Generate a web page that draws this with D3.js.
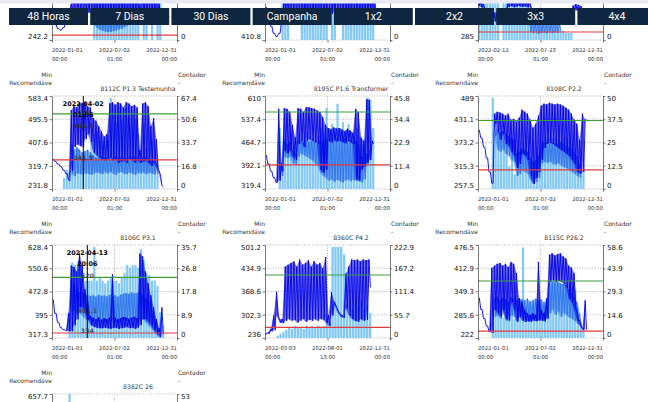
<!DOCTYPE html>
<html><head><meta charset="utf-8">
<script src="https://cdn.jsdelivr.net/npm/d3@7"></script>
<style>
html,body{margin:0;padding:0;background:#fff;overflow:hidden}
svg{display:block;font-family:"DejaVu Sans",sans-serif}
</style></head><body>
<svg id="chart" width="648" height="402"></svg>
<script>
// ---- toolbar ----
const buttons = ["48 Horas", "7 Dias", "30 Dias", "Campanha", "1x2", "2x2", "3x3", "4x4"];

// ---- panel metadata (3x3 grid, scrolled; last row partly visible) ----
const titles = ["", "", "", "8112C P1.3 Testemunha", "8195C P1.6 Transformer", "8108C P2.2",
  "8106C P3.1", "8360C P4.2", "8115C P26.2", "8382C 26"];
const dateTicks = [
  ["2022-01-01 00:00", "2022-07-02 01:00", "2022-12-31 00:00"],
  ["2022-01-01 00:00", "2022-07-02 01:00", "2022-12-31 00:00"],
  ["2022-02-12 00:00", "2022-07-23 01:00", "2022-12-31 00:00"],
  ["2022-01-01 00:00", "2022-07-02 01:00", "2022-12-31 00:00"],
  ["2022-01-01 00:00", "2022-07-02 01:00", "2022-12-31 00:00"],
  ["2022-01-01 00:00", "2022-07-02 01:00", "2022-12-31 00:00"],
  ["2022-01-01 00:00", "2022-07-02 01:00", "2022-12-31 00:00"],
  ["2022-03-03 00:00", "2022-08-01 13:00", "2022-12-31 00:00"],
  ["2022-01-01 00:00", "2022-07-02 01:00", "2022-12-31 00:00"],
  ["2022-01-01 00:00", "2022-07-02 01:00", "2022-12-31 00:00"]
];
const leftTicks = [
  [242.2, 330.2, 418.2, 506.2, 594.2], [410.8, 460, 509.2, 558.4, 607.6], [285, 362.5, 440, 517.5, 595],
  [231.8, 319.7, 407.6, 495.5, 583.4], [319.4, 392.1, 464.7, 537.4, 610], [257.5, 315.3, 373.2, 431.1, 489],
  [317.3, 395, 472.8, 550.6, 628.4], [236, 302.3, 368.6, 434.9, 501.2], [222, 285.6, 349.3, 412.9, 476.5],
  [300.1, 389.5, 478.9, 568.3, 657.7]
];
const rightTicks = [
  [0, 15, 30, 45, 60], [0, 12.5, 25, 37.5, 50], [0, 10, 20, 30, 40],
  [0, 16.8, 33.7, 50.6, 67.4], [0, 11.4, 22.9, 34.4, 45.8], [0, 12.5, 25, 37.5, 50],
  [0, 8.9, 17.8, 26.8, 35.7], [0, 55.7, 111.4, 167.2, 222.9], [0, 14.6, 29.3, 43.9, 58.6],
  [0, 13.3, 26.5, 39.8, 53]
];
const sampleDays = [8, 8, 7, 8, 8, 8, 8, 7, 8, 8];
const minRecommended = [261, 520, 311.6, 341.9, 395, 305, 334, 266.5, 241, 380];
const targetLine = [520, 560, 450, 516, 560, 428, 520, 415.7, 378, 560];
const cursorTime = ["", "", "", "2022-04-02 01:06", "", "", "2022-04-13 20:06", "", "", ""];
const cursorValues = [[], [], [], [464.4, 516, 341.9], [], [], [520, 401.1, 334], [], [], []];

// ---- series: dark = sensor max/min swing, mid = second sensor swing, cnt = counter ----
const dkHi_top1 = [330,300,285,280,290,320,340,380,420,425,430,428,420,425,430,432,428,430,425,430,428,432,430,426,430,428,432,430,425,430,428,420,380,430,428,425,430,420,400,380,340];
const dkLo_top1 = [330,300,285,280,290,320,340,350,340,345,350,342,338,345,350,340,345,350,340,345,350,342,345,340,348,345,350,342,345,340,350,345,330,345,340,350,345,340,330,320,320];
const mdHi_top1 = [null,null,null,null,null,null,null,null,null,null,null,null,null,null,null,345,350,340,348,352,345,350,342,348,350,344,350,346,352,348];
const mdLo_top1 = [null,null,null,null,null,null,null,null,null,null,null,null,null,null,null,300,290,282,278,275,272,273,275,278,282,285,290,295,300,305];
const cnt_top1 = [0,0,0,0,0,0,0,0,0,0,0,0,0,0,0,32,30,34,31,33,30,32,35,31,30,33,32,30,34,31,33,30,0,32,30,0,31,0,30,28,0];

const dkHi_top2 = [480,460,440,425,418,425,450,520,515,522,518,520,516,522,520,518,524,520,515,522,518,520,516,522,520,518,520,515,522,518,520,516,522,520,518,515,520,518,522,510,490];
const dkLo_top2 = [480,460,440,425,418,425,450,470,468,472,470,465,472,468,470,466,472,470,468,465,472,470,468,472,466,470,468,472,470,465,470,468,472,470,466,470,468,472,470,465,470];
const mdHi_top2 = [];
const mdLo_top2 = [];
const cnt_top2 = [0,0,0,0,0,0,24,25,23,0,0,0,0,25,24,26,25,23,25,24,26,25,24,0,25,24,0,0,25,23,26,24,25,24,26,25,23,25,24,25,0];

const dkHi_top3 = [420,410,405,380,378,382,376,380,378,375,380,420,418,422,420,416,420,418,422,420,380,378,382,376,380,378,375,380,378,382,376,380,378,375,380,400,405,402,398,360];
const dkLo_top3 = [400,395,390,340,345,342,348,340,345,342,340,395,398,394,396,398,395,397,394,396,340,345,342,348,340,345,342,340,345,342,348,340,345,342,340,380,384,382,380,350];
const mdHi_top3 = [null,null,null,null,null,null,null,null,null,null,null,null,null,null,null,null,null,null,null,345,348,342,346,350,344,348,345,342,347,344,340];
const mdLo_top3 = [null,null,null,null,null,null,null,null,null,null,null,null,null,null,null,null,null,null,null,312,308,310,306,309,311,307,310,308,312,309,314];
const cnt_top3 = [18,17,19,18,18,17,19,18,0,18,19,17,18,18,19,17,18,19,18,4,4,3,4,5,4,4,3,4,4,5,4,4,3,3,3,0,0,0,0,0];

const dkHi_8112C = [345,336,326,316,303,290,268,530,545,540,560,555,560,545,540,500,490,470,450,430,440,555,560,550,560,555,540,560,555,545,550,540,380,555,560,545,470,500,420,300,245];
const dkLo_8112C = [345,336,326,316,303,290,262,300,390,400,395,390,420,440,410,370,360,350,345,340,345,350,340,345,330,335,340,330,345,340,330,340,330,335,340,330,320,330,310,285,240];
const mdHi_8112C = [null,null,null,null,null,null,null,400,380,390,380,370,375,380,370,360,352,350,355,352,350,352,348,355,350,352,350,348,352,350,355,350,345,350,352,348,345,340,330];
const mdLo_8112C = [null,null,null,null,null,null,null,290,280,290,290,285,290,290,285,290,295,292,288,295,290,296,290,285,292,296,290,288,294,290,286,292,290,295,288,292,290,288,285];
const cnt_8112C = [0,0,0,0,8,14,12,25,20,30,18,15,22,20,35,40,42,38,35,32,36,66,55,48,60,50,58,52,45,55,50,40,20,48,30,45,35,25,10,0,0];

const dkHi_8195C = [425,398,375,355,340,570,400,572,570,560,520,480,572,570,560,575,575,572,570,565,560,545,520,510,505,512,508,510,505,500,508,502,495,570,560,480,470,600,598,470];
const dkLo_8195C = [425,398,375,355,340,345,375,440,430,440,420,410,460,470,450,470,475,470,465,460,380,370,380,470,465,472,468,470,466,462,470,465,460,350,345,380,390,400,410,460];
const mdHi_8195C = [null,null,null,null,null,null,390,470,460,470,440,430,470,470,465,470,468,470,465,460,470,470,480,475,478,472,476,470,474,478,470,472,468,470,460,420,420,430,440];
const mdLo_8195C = [null,null,null,null,null,null,360,420,415,420,400,395,420,430,425,420,415,410,400,395,370,360,355,345,350,342,348,345,340,346,350,344,348,345,345,340,350,400,410];
const cnt_8195C = [0,0,0,0,0,30,10,25,22,28,20,18,27,25,24,28,26,25,24,26,30,28,40,30,32,30,42,30,33,29,32,28,25,30,26,22,24,45,44,30];

const dkHi_8108C = [404,385,362,335,300,272,445,450,448,445,440,445,430,432,425,435,455,450,445,430,410,420,440,465,470,468,472,470,468,470,468,465,460,455,445,430,420,380,445,430];
const dkLo_8108C = [404,385,362,335,300,272,420,400,380,395,370,365,350,340,310,320,345,340,330,290,270,285,300,330,360,370,372,370,365,360,355,350,345,340,330,320,300,295,300,430];
const mdHi_8108C = [null,null,null,null,null,null,420,405,398,402,395,390,385,380,345,350,360,355,350,335,325,330,340,368,372,375,370,374,371,368,373,370,366,362,358,350,340,320];
const mdLo_8108C = [null,null,null,null,null,null,390,355,350,356,345,340,330,325,290,295,305,300,295,280,270,275,285,320,325,322,326,320,318,322,316,312,310,305,300,296,290,285];
const cnt_8108C = [0,0,0,0,0,49,30,28,30,25,27,12,20,8,22,20,25,24,20,15,12,14,18,26,28,27,28,27,28,27,26,28,27,26,24,22,12,8,10,0];

const dkHi_8106C = [444,400,370,352,345,342,400,560,555,540,600,560,480,440,390,385,380,386,378,384,380,386,530,385,380,384,388,386,382,385,388,384,600,590,540,500,460,420,380,350,420];
const dkLo_8106C = [444,400,370,352,345,342,340,340,360,380,420,420,400,380,360,355,352,350,350,352,350,348,350,352,348,350,352,354,350,352,348,352,360,380,380,370,360,345,330,320,330];
const mdHi_8106C = [null,null,null,null,null,null,null,520,500,480,470,470,465,462,458,460,455,462,458,460,456,462,458,460,455,462,465,468,465,470,466,468,470,460,450,440,420,400,380];
const mdLo_8106C = [null,null,null,null,null,null,null,400,410,400,400,390,380,378,372,375,370,374,368,372,370,375,370,372,368,374,376,378,374,380,376,378,380,380,370,360,350,340,330];
const cnt_8106C = [0,0,0,0,0,0,10,29,28,29,28,25,22,22,22,35,22,23,22,21,22,23,22,22,21,23,25,28,27,28,28,27,34,30,25,24,22,22,20,10,5];

const dkHi_8360C = [247,252,262,300,368,290,290,440,445,450,455,440,460,445,450,458,440,455,445,450,435,467,300,367,340,320,305,300,420,440,460,458,460,455,460,458,460];
const dkLo_8360C = [247,248,255,258,300,280,278,285,290,285,288,280,285,290,282,288,285,290,285,290,288,280,270,300,330,310,298,293,320,300,290,285,282,290,285,288,380];
const mdHi_8360C = [];
const mdLo_8360C = [];
const cnt_8360C = [0,0,0,0,5,10,15,20,25,22,28,24,26,22,30,25,28,24,30,26,28,55,40,218,218,218,218,200,80,90,70,85,75,90,70,80,60];

const dkHi_8115C = [331,300,275,255,240,414,420,425,427,420,425,416,430,425,400,330,320,300,290,285,290,285,430,300,290,330,450,454,448,452,454,445,440,420,415,400,300,270,250,325];
const dkLo_8115C = [331,300,275,255,240,236,300,290,280,300,275,270,320,300,266,280,270,266,268,266,270,268,270,270,268,275,376,380,375,378,376,372,360,330,320,300,270,255,244,245];
const mdHi_8115C = [null,null,null,null,null,null,330,335,325,332,328,320,335,330,325,331,328,325,330,322,326,330,324,328,320,330,376,378,375,376,372,370,365,355,345,335,320,290];
const mdLo_8115C = [null,null,null,null,null,null,280,285,275,290,270,268,285,280,268,285,278,272,280,270,275,268,272,280,266,275,290,300,285,295,280,290,285,278,275,270,262,258];
const cnt_8115C = [0,0,0,0,0,10,19,15,18,13,17,15,19,12,15,20,57,20,22,21,22,23,22,21,22,23,34,35,34,35,34,35,34,33,32,30,20,10,5,0];

const dkHi_8382C = [];
const dkLo_8382C = [];
const mdHi_8382C = [];
const mdLo_8382C = [];
const cnt_8382C = [0,0,0,0,0,0,53];

const series = [
  [dkHi_top1, dkLo_top1, mdHi_top1, mdLo_top1, cnt_top1],
  [dkHi_top2, dkLo_top2, mdHi_top2, mdLo_top2, cnt_top2],
  [dkHi_top3, dkLo_top3, mdHi_top3, mdLo_top3, cnt_top3],
  [dkHi_8112C, dkLo_8112C, mdHi_8112C, mdLo_8112C, cnt_8112C],
  [dkHi_8195C, dkLo_8195C, mdHi_8195C, mdLo_8195C, cnt_8195C],
  [dkHi_8108C, dkLo_8108C, mdHi_8108C, mdLo_8108C, cnt_8108C],
  [dkHi_8106C, dkLo_8106C, mdHi_8106C, mdLo_8106C, cnt_8106C],
  [dkHi_8360C, dkLo_8360C, mdHi_8360C, mdLo_8360C, cnt_8360C],
  [dkHi_8115C, dkLo_8115C, mdHi_8115C, mdLo_8115C, cnt_8115C],
  [dkHi_8382C, dkLo_8382C, mdHi_8382C, mdLo_8382C, cnt_8382C]
];

// ---- drawing ----
const C = { dark: "#0000e6", mid: "#2f74ec", light: "#80c8f8", red: "#e23b3b", green: "#3a9e3a", grid: "#9a9a9a" };
const svg = d3.select("#chart");
const parseT = d3.timeParse("%Y-%m-%d %H:%M");
const fmt = d3.format("~");
const DAY = 864e5;
const TOOLBAR_BOTTOM = 26, PAGE_H = 402;

// alternating high/low samples of one swinging sensor trace
function swing(hi, lo, t0, stepMs) {
  const pts = [];
  for (let i = 0; i < hi.length; i++) {
    if (hi[i] == null) { pts.push(null); continue; }
    const t = t0 + i * stepMs;
    pts.push([t, hi[i]], [t + stepMs / 2, lo[i]]);
  }
  return pts;
}
function envelope(hi, lo, t0, stepMs) {
  return hi.map((h, i) => h == null ? null : [t0 + i * stepMs, h, lo[i]]);
}

titles.forEach((title, k) => {
  const r = Math.floor(k / 3), c = k % 3;
  const ox = c * 213, oy = (r - 1) * 149;
  const L = 52 + ox, R = 177 + ox, T = 96 + oy, B = 189 + oy;
  const ticks = dateTicks[k].map(parseT);
  const lt = leftTicks[k], rt = rightTicks[k];
  const x = d3.scaleTime().domain([ticks[0], ticks[2]]).range([L, R]);
  const yl = d3.scaleLinear().domain([lt[0], lt[4]]).range([B, T]);
  const yr = d3.scaleLinear().domain([rt[0], rt[4]]).range([B, T]);
  const g = svg.append("g");
  const clipId = "clip" + k;
  g.append("clipPath").attr("id", clipId).append("rect")
    .attr("x", L).attr("y", T).attr("width", R - L).attr("height", B - T);

  // header texts (only when the panel header is on screen)
  if (T - 24 > 0) {
    g.append("text").attr("x", L).attr("y", T - 19).attr("text-anchor", "end")
      .attr("font-size", 6).attr("fill", "#333").text("Min");
    g.append("text").attr("x", L).attr("y", T - 11.5).attr("text-anchor", "end")
      .attr("font-size", 6).attr("fill", "#333").text("Recomendáve");
    g.append("text").attr("x", R + 1).attr("y", T - 19)
      .attr("font-size", 6).attr("fill", "#333").text("Contador");
    g.append("text").attr("x", R + 1).attr("y", T - 11.5)
      .attr("font-size", 6).attr("fill", "#333").text("-");
    g.append("text").attr("x", L + 86).attr("y", T - 4.6).attr("text-anchor", "middle")
      .attr("font-size", 6.2).attr("fill", "#333").text(title);
  }

  // grid
  g.append("g").selectAll("line").data(lt).join("line")
    .attr("x1", L).attr("x2", R).attr("y1", d => yl(d)).attr("y2", d => yl(d))
    .attr("stroke", C.grid).attr("stroke-width", 0.8).attr("stroke-dasharray", "1,1.6");
  g.append("line").attr("x1", x(ticks[1])).attr("x2", x(ticks[1])).attr("y1", T).attr("y2", B)
    .attr("stroke", C.grid).attr("stroke-width", 0.8).attr("stroke-dasharray", "1,1.6");

  // series
  const [dkHi, dkLo, mdHi, mdLo, cnt] = series[k];
  const t0 = ticks[0].getTime(), stepMs = sampleDays[k] * DAY;
  const plot = g.append("g").attr("clip-path", `url(#${clipId})`);
  const bw = (x(t0 + stepMs) - x(t0)) * 0.8;
  plot.append("g").selectAll("rect").data(cnt.map((v, i) => [t0 + i * stepMs, v]).filter(d => d[1] > 0))
    .join("rect").attr("x", d => x(d[0])).attr("width", bw)
    .attr("y", d => yr(d[1])).attr("height", d => B - yr(d[1])).attr("fill", C.light);
  const line = d3.line().defined(d => d != null).x(d => x(d[0])).y(d => yl(d[1]));
  const area = d3.area().defined(d => d != null).x(d => x(d[0])).y0(d => yl(d[2])).y1(d => yl(d[1]));
  [[mdHi, mdLo, C.mid], [dkHi, dkLo, C.dark]].forEach(([hi, lo, col]) => {
    plot.append("path").attr("d", area(envelope(hi, lo, t0, stepMs)))
      .attr("fill", col).attr("fill-opacity", 0.55);
    plot.append("path").attr("d", line(swing(hi, lo, t0, stepMs)))
      .attr("fill", "none").attr("stroke", col).attr("stroke-width", 0.9);
  });
  plot.append("line").attr("x1", L).attr("x2", R)
    .attr("y1", yl(targetLine[k])).attr("y2", yl(targetLine[k]))
    .attr("stroke", C.green).attr("stroke-width", 1.2);
  plot.append("line").attr("x1", L).attr("x2", R)
    .attr("y1", yl(minRecommended[k])).attr("y2", yl(minRecommended[k]))
    .attr("stroke", C.red).attr("stroke-width", 1.2);

  // axes
  const shift = y => Math.min(Math.max(y, T + 2.5), B - 3.5) - y;
  const ga = g.append("g").attr("transform", `translate(${L},0)`)
    .call(d3.axisLeft(yl).tickValues(lt).tickSize(2.5).tickSizeOuter(0).tickPadding(1.5).tickFormat(fmt));
  const gb = g.append("g").attr("transform", `translate(${R},0)`)
    .call(d3.axisRight(yr).tickValues(rt).tickSize(2.5).tickSizeOuter(0).tickPadding(1.5).tickFormat(fmt));
  [[ga, yl], [gb, yr]].forEach(([ax, s]) => {
    ax.select(".domain").attr("stroke", "#555").attr("stroke-width", 0.8);
    ax.selectAll(".tick line").attr("stroke", "#555").attr("stroke-width", 0.8);
    ax.selectAll(".tick text").attr("font-size", 7).attr("font-family", "DejaVu Sans")
      .attr("fill", "#111").attr("transform", d => `translate(0,${shift(s(d))})`);
    // labels hidden under the toolbar or beyond the page edge are not drawn
    ax.selectAll(".tick text").filter(d => s(d) < TOOLBAR_BOTTOM || s(d) > PAGE_H - 6).remove();
  });
  const gx = g.append("g").attr("transform", `translate(0,${B})`)
    .call(d3.axisBottom(x).tickValues(ticks).tickSize(2.5).tickSizeOuter(0).tickFormat(""));
  gx.select(".domain").remove();
  gx.selectAll(".tick line").attr("stroke", "#555").attr("stroke-width", 0.8);
  const anchors = ["start", "middle", "end"];
  if (B + 21 < PAGE_H) {
    dateTicks[k].forEach((s, j) => {
      const [d, hm] = s.split(" ");
      const xx = x(ticks[j]);
      g.append("text").attr("x", xx).attr("y", B + 11.5).attr("text-anchor", anchors[j])
        .attr("font-size", 5.3).attr("fill", "#333").text(d);
      g.append("text").attr("x", xx).attr("y", B + 20.5).attr("text-anchor", anchors[j])
        .attr("font-size", 5.3).attr("fill", "#333").text(hm);
    });
  }

  // hover cursor
  if (cursorTime[k]) {
    const ct = parseT(cursorTime[k]);
    const cx = x(ct);
    g.append("line").attr("x1", cx).attr("x2", cx).attr("y1", T).attr("y2", B)
      .attr("stroke", "#000").attr("stroke-width", 1);
    const [d, hm] = cursorTime[k].split(" ");
    g.append("text").attr("x", cx).attr("y", T + 9.5).attr("text-anchor", "middle")
      .attr("font-size", 6.4).attr("font-weight", "bold").attr("fill", "#000").text(d);
    g.append("text").attr("x", cx).attr("y", T + 20.5).attr("text-anchor", "middle")
      .attr("font-size", 6.4).attr("font-weight", "bold").attr("fill", "#000").text(hm);
    cursorValues[k].forEach(v => {
      g.append("text").attr("x", cx).attr("y", yl(v) + 0.3).attr("text-anchor", "middle")
        .attr("font-size", 6.2).attr("font-weight", "bold").attr("fill", "#333")
        .attr("fill-opacity", 0.85).text(fmt(v));
    });
  }
});

// toolbar on top
const bar = svg.append("g");
bar.selectAll("rect").data(buttons).join("rect")
  .attr("x", (d, i) => 9 + i * 81.2).attr("y", 8).attr("width", 79).attr("height", 17)
  .attr("fill", "#0f2640");
bar.selectAll("text").data(buttons).join("text")
  .attr("x", (d, i) => 9 + i * 81.2 + 39.5).attr("y", 20.2).attr("text-anchor", "middle")
  .attr("font-family", "Roboto, sans-serif").attr("font-size", 10.5).attr("fill", "#fff").text(d => d);
svg.append("rect").attr("x", 0).attr("y", 0).attr("width", 648).attr("height", 3.5).attr("fill", "#e9e9f1");
</script></body></html>
